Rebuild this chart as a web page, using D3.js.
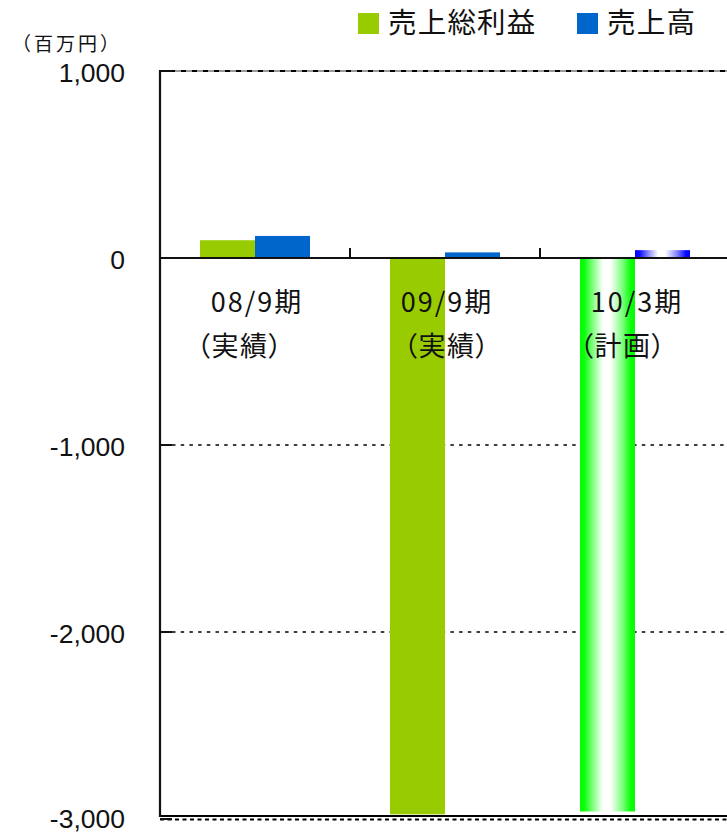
<!DOCTYPE html>
<html>
<head>
<meta charset="utf-8">
<script src="https://cdn.jsdelivr.net/npm/d3@7"></script>
<style>
  html, body { margin: 0; padding: 0; background: #fff; }
  svg { display: block; }
  .jp { font-family: "Noto Sans CJK JP", "Noto Sans", sans-serif; }
  .palt { font-feature-settings: "palt"; }
  .num { font-family: "Liberation Sans", Arial, sans-serif; }
</style>
</head>
<body>
<svg id="chart" width="727" height="833"></svg>
<script>
// 売上総利益・売上高（百万円）
const periods = ["08/9期", "09/9期", "10/3期"];
const periodNotes = ["（実績）", "（実績）", "（計画）"];
const seriesNames = ["売上総利益", "売上高"];
const grossProfit = [95, -2975, -2960];
const sales = [118, 30, 42];
const yTicks = [1000, 0, -1000, -2000, -3000];
const unitLabel = "（百万円）";

const svg = d3.select("#chart");
const W = 727, H = 833;
const plotLeft = 160, plotRight = 730, plotTop = 71, plotBottom = 819;

const y = d3.scaleLinear().domain([-3000, 1000]).range([plotBottom, plotTop]);
const x0 = d3.scaleBand().domain(periods).range([plotLeft, plotRight]).paddingInner(0).paddingOuter(0);
const x1 = d3.scaleBand().domain(seriesNames).range([0, x0.bandwidth()]).paddingInner(0).paddingOuter(0.727);

const solidColors = { "売上総利益": "#99CC00", "売上高": "#0066CC" };

// horizontal highlight gradients for the plan period
const defs = svg.append("defs");
function sheen(id, c) {
  const g = defs.append("linearGradient").attr("id", id)
    .attr("x1", "0%").attr("x2", "100%").attr("y1", "0%").attr("y2", "0%");
  [[0, 1], [0.08, 0.95], [0.25, 0.45], [0.42, 0.0], [0.55, 0.0], [0.75, 0.45], [0.92, 0.95], [1, 1]]
    .forEach(([o, a]) => {
      g.append("stop").attr("offset", o).attr("stop-color", d3.interpolateRgb("#ffffff", c)(a));
    });
}
sheen("gGreen", "#00FF00");
sheen("gBlue", "#0000FF");
const planFill = { "売上総利益": "url(#gGreen)", "売上高": "url(#gBlue)" };

const fmt = d3.formatLocale({ decimal: ".", thousands: ",", grouping: [3], currency: ["", ""], minus: "-" }).format(",");

// grid lines
const grid = svg.append("g");
// top border
grid.append("line").attr("x1", plotLeft).attr("x2", W).attr("y1", y(1000)).attr("y2", y(1000))
  .attr("stroke", "#999").attr("stroke-width", 2);
grid.append("line").attr("x1", plotLeft + 10).attr("x2", W).attr("y1", y(1000)).attr("y2", y(1000))
  .attr("stroke", "#000").attr("stroke-width", 2).attr("stroke-dasharray", "5,6");
grid.append("line").attr("x1", plotLeft).attr("x2", plotLeft + 10).attr("y1", y(1000)).attr("y2", y(1000))
  .attr("stroke", "#000").attr("stroke-width", 2);
// dotted interior grid
[-1000, -2000].forEach(v => {
  grid.append("line").attr("x1", plotLeft + 12).attr("x2", W).attr("y1", y(v)).attr("y2", y(v))
    .attr("stroke", "#000").attr("stroke-width", 1.6).attr("stroke-dasharray", "3.5,5.2");
});
// bottom border
grid.append("line").attr("x1", plotLeft).attr("x2", W).attr("y1", y(-3000) - 3).attr("y2", y(-3000) - 3)
  .attr("stroke", "#000").attr("stroke-width", 2);
grid.append("line").attr("x1", plotLeft).attr("x2", W).attr("y1", y(-3000) + 0.5).attr("y2", y(-3000) + 0.5)
  .attr("stroke", "#000").attr("stroke-width", 2).attr("stroke-dasharray", "4,3.5");

// bars
const rows = periods.map((p, i) => ({ period: p, idx: i, values: [grossProfit[i], sales[i]] }));
const groups = svg.append("g").selectAll("g").data(rows).join("g")
  .attr("transform", d => `translate(${x0(d.period)},0)`);
groups.selectAll("rect")
  .data(d => d.values.map((v, j) => ({ name: seriesNames[j], value: v, idx: d.idx })))
  .join("rect")
  .attr("x", d => x1(d.name))
  .attr("width", x1.bandwidth())
  .attr("y", d => y(Math.max(0, d.value)))
  .attr("height", d => Math.abs(y(d.value) - y(0)))
  .attr("fill", d => d.idx === 2 ? planFill[d.name] : solidColors[d.name]);

// zero line with category ticks
svg.append("line").attr("x1", plotLeft).attr("x2", W).attr("y1", y(0)).attr("y2", y(0))
  .attr("stroke", "#111").attr("stroke-width", 2);
periods.forEach(p => {
  const xe = x0(p) + x0.bandwidth();
  svg.append("line").attr("x1", xe).attr("x2", xe).attr("y1", y(0) - 10).attr("y2", y(0))
    .attr("stroke", "#111").attr("stroke-width", 2);
});

// value axis
svg.append("line").attr("x1", plotLeft).attr("x2", plotLeft).attr("y1", y(1000) - 1).attr("y2", y(-3000) - 2)
  .attr("stroke", "#111").attr("stroke-width", 2.2);
const yAxis = svg.append("g");
yTicks.forEach(v => {
  yAxis.append("line").attr("x1", plotLeft).attr("x2", plotLeft + 12).attr("y1", y(v)).attr("y2", y(v))
    .attr("stroke", "#111").attr("stroke-width", 2);
  yAxis.append("text").attr("class", "num")
    .attr("x", 125).attr("y", Math.min(y(v) + 1, 818)).attr("dy", "0.36em")
    .attr("text-anchor", "end").attr("font-size", 26.5).attr("fill", "#111")
    .text(fmt(v));
});

// unit label
svg.append("text").attr("class", "jp").attr("x", 12).attr("y", 44).attr("dy", "0.36em")
  .attr("font-size", 19).attr("letter-spacing", 3).attr("fill", "#111").text(unitLabel);

// category labels
const noteShift = [-15, 2, -12];
const cats = svg.append("g").attr("class", "jp palt");
periods.forEach((p, i) => {
  const cx = x0(p) + x0.bandwidth() / 2;
  cats.append("text").attr("x", cx + 2).attr("y", 302).attr("dy", "0.36em")
    .attr("text-anchor", "middle").attr("font-size", 27).attr("letter-spacing", 2).attr("fill", "#111").text(p);
  cats.append("text").attr("x", cx + noteShift[i]).attr("y", 346).attr("dy", "0.36em")
    .attr("text-anchor", "middle").attr("font-size", 27).attr("letter-spacing", 1.5).attr("fill", "#111").text(periodNotes[i]);
});

// legend
const legendX = [358, 577];
const legend = svg.append("g").attr("class", "jp");
seriesNames.forEach((n, i) => {
  legend.append("rect").attr("x", legendX[i]).attr("y", 13).attr("width", 21).attr("height", 21)
    .attr("fill", solidColors[n]);
  legend.append("text").attr("x", legendX[i] + 30).attr("y", 23).attr("dy", "0.36em")
    .attr("font-size", 28.5).attr("letter-spacing", 1.2).attr("fill", "#111").text(n);
});
</script>
</body>
</html>
